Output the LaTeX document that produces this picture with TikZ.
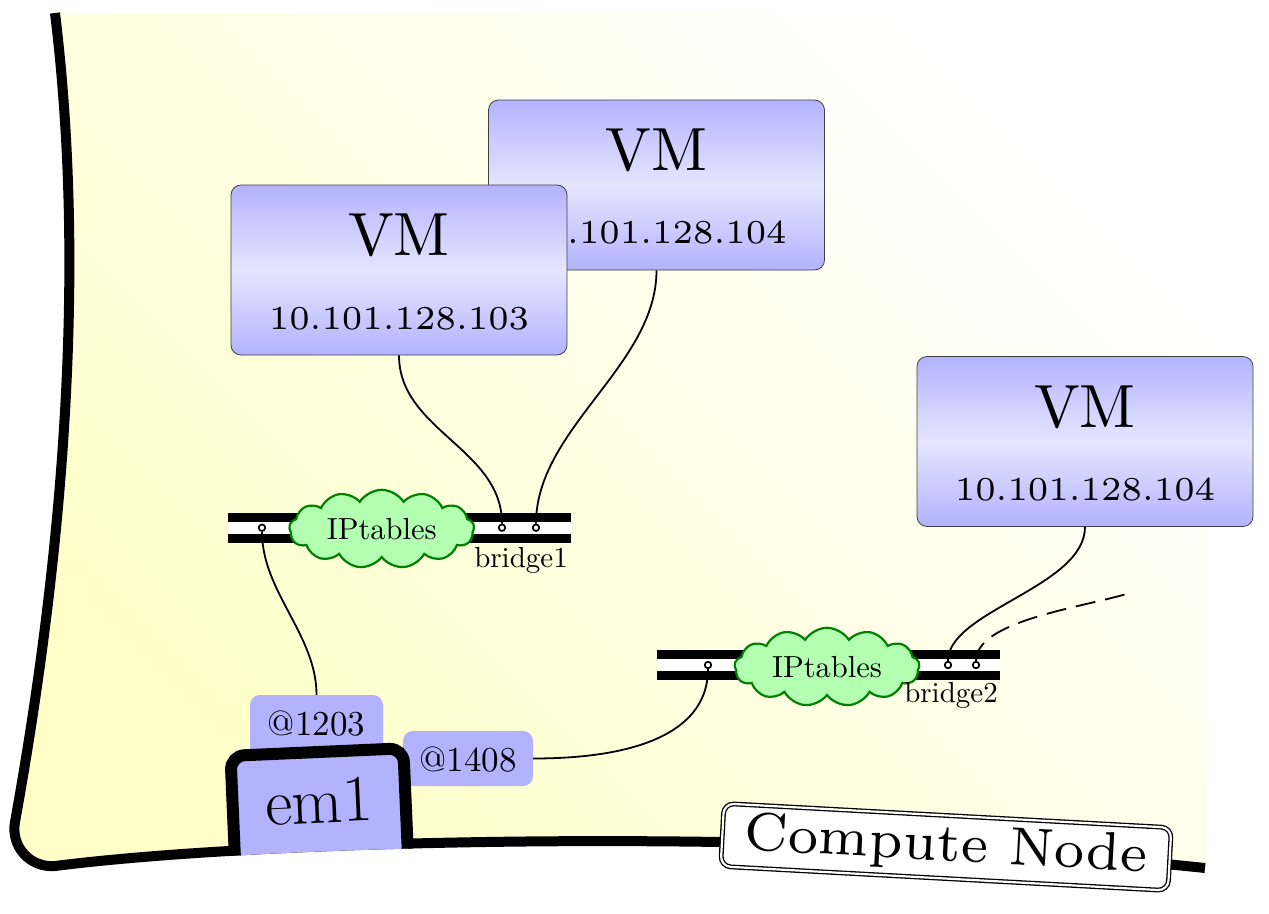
\documentclass[tikz,border=0pt]{standalone}
\usepackage{graphicx}
\usetikzlibrary{shapes.symbols}
\newcommand\myfs[1]{\fontsize{#1}{#1}\selectfont}
\newcommand\cmten[2]{\scalebox{#1}{\fontsize{10}{12}\selectfont #2}}
\newcommand\cmsix[2]{\scalebox{#1}{\fontsize{6}{7}\selectfont #2}}
\newcommand\cmseven[2]{\scalebox{#1}{\fontsize{7}{8}\selectfont #2}}
\begin{document}
\begin{tikzpicture}[x=1pt,y=-1pt,
  vmbox/.style={rectangle, rounded corners=10, draw=black!75, line width=0.8,
    top color=blue!30, bottom color=blue!30, middle color=blue!10,
    minimum width=336, minimum height=170, inner sep=0},
  txt/.style={inner sep=0, anchor=base},
  bridgebar/.style={rectangle, fill=black, inner sep=0, minimum width=343, minimum height=30,
    path picture={\fill[white] ([yshift=6pt]path picture bounding box.west) rectangle ([yshift=-6pt]path picture bounding box.east);}},
  port/.style={circle, draw=black, line width=1.7, fill=white, minimum size=6.5, inner sep=0},
  ipcloud/.style={cloud, cloud puffs=13, cloud puff arc=115, aspect=2.6, fill=green!30,
    draw=green!50!black, line width=2.2, minimum width=185, minimum height=70, inner sep=0},
  conn/.style={line width=1.8, draw=black},
  tag/.style={rectangle, rounded corners=10, fill=blue!30, inner sep=0, anchor=base},
  blab/.style={txt, anchor=base east}
]
\useasboundingbox (0,0) rectangle (1269,913);

% compute node sheet
\shade[bottom color=yellow!22, top color=white, middle color=yellow!10, shading angle=-45]
  (55,13) .. controls (90,300) and (55,600) .. (15,822)
  .. controls (10.6,846.6) and (30,868) .. (55,866)
  .. controls (300,835) and (850,830) .. (1205,868) -- (1207,868) -- (1207,13) -- cycle;
\draw[line width=10]
  (55,13) .. controls (90,300) and (55,600) .. (15,822)
  .. controls (10.6,846.6) and (30,868) .. (55,866)
  .. controls (300,835) and (850,830) .. (1205,868);

% VMs
\node[vmbox] (vm2) at (656.5,185) {};
\node[txt] (vm2t) at (656.5,170.5) {\cmten{6.1}{VM}};
\node[txt] (vm2ip) at (656.5,243) {\cmsix{5.58}{10.101.128.104}};

\node[vmbox] (vm1) at (399,270) {};
\node[txt] (vm1t) at (399,255.5) {\cmten{6.1}{VM}};
\node[txt] (vm1ip) at (399,329.5) {\cmsix{5.58}{10.101.128.103}};

\node[vmbox] (vm3) at (1085,441.5) {};
\node[txt] (vm3t) at (1085,427.5) {\cmten{6.1}{VM}};
\node[txt] (vm3ip) at (1085,500.5) {\cmsix{5.58}{10.101.128.104}};

% bridges
\node[bridgebar] (br1) at (399.5,527.7) {};
\node[port] (p1a) at (262,527.7) {};
\node[port] (p1b) at (502,527.7) {};
\node[port] (p1c) at (536,527.7) {};
\node[ipcloud] (ipt1) at (381.7,529) {\cmten{3.05}{IPtables}};
\node[blab] (b1lab) at (568,567) {\cmten{2.9}{bridge1}};

\node[bridgebar] (br2) at (828.5,665) {};
\node[port] (p2a) at (708,665) {};
\node[port] (p2b) at (948,665) {};
\node[port] (p2c) at (976,665) {};
\node[ipcloud] (ipt2) at (827,667) {\cmten{3.05}{IPtables}};
\node[blab] (b2lab) at (998,702) {\cmten{2.9}{bridge2}};

% tags
\node[tag, minimum width=133, text height=40, text depth=25] (a1203) at (316.5,735) {\cmten{3.5}{@1203}};
\node[tag, minimum width=130, text height=40, text depth=15] (a1408) at (468,771) {\cmten{3.5}{@1408}};

% connectors
\draw[conn] (vm1.south) .. controls +(0,75) and +(0,-75) .. (p1b.north);
\draw[conn] (vm2.south) .. controls +(0,95) and +(0,-95) .. (p1c.north);
\draw[conn] (p1a.south) .. controls +(0,60) and +(0,-60) .. (a1203.north);
\draw[conn] (a1408.east) .. controls +(110,0) and +(0,60) .. (p2a.south);
\draw[conn] (vm3.south) .. controls +(0,60) and +(0,-50) .. (p2b.north);
\coordinate (dashend) at (1130,593);
\draw[conn, dash pattern=on 20pt off 10pt] (p2c.north) .. controls +(0,-40) and +(-50,15) .. (dashend);

% em1 interface
\begin{scope}
  \clip (0,-50) -- (0,871) -- (55,871) .. controls (300,840) and (850,835) .. (1205,873)
    -- (1269,873) -- (1269,-50) -- cycle;
  \node[rectangle, rounded corners=14, draw=black, line width=12, fill=blue!30,
    minimum width=173, text height=71, text depth=60, inner sep=0,
    anchor=base, rotate=2.5, font=\myfs{66}] (em1) at (320,823) {em1};
\end{scope}

% label
\node[rectangle, rounded corners=10, draw=black, line width=1.3, double=white,
  double distance=2.2, fill=white, minimum width=448, minimum height=63, inner sep=0,
  rotate=-3.1] (cn) at (946,847) {\cmseven{7.7}{Compute Node}};
\end{tikzpicture}
\end{document}
